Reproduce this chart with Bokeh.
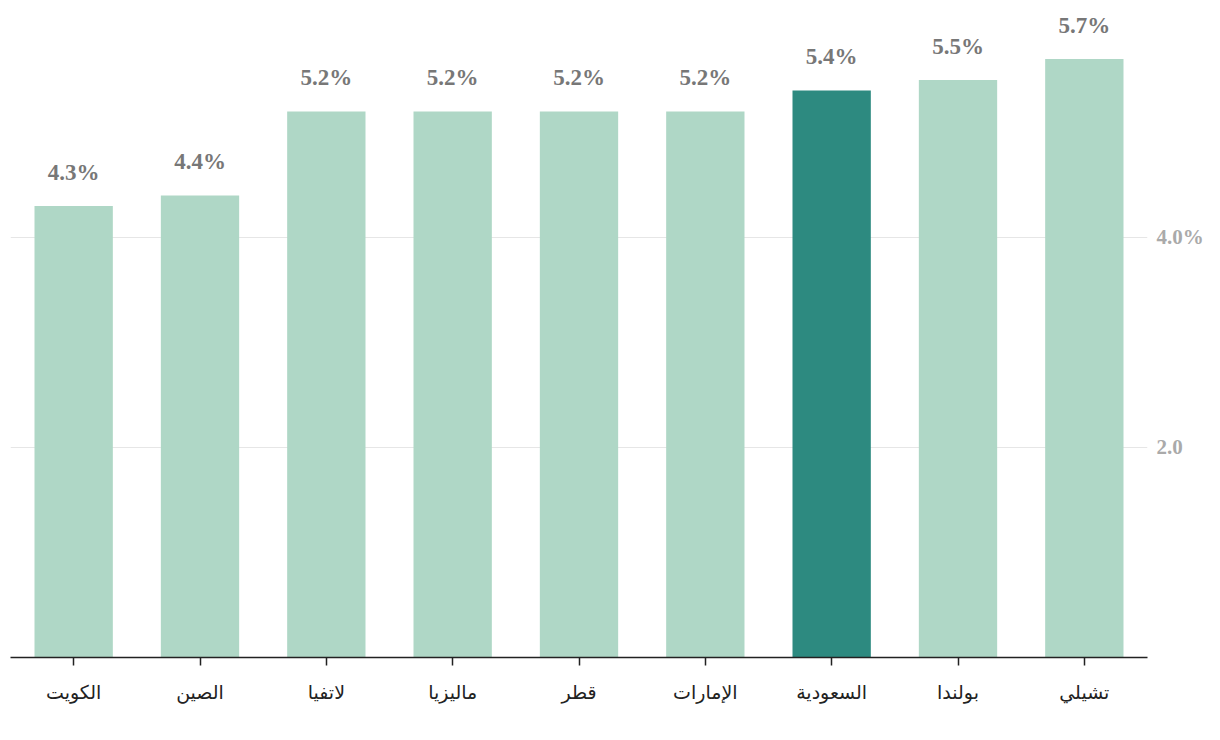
from bokeh.plotting import figure
from bokeh.models import ColumnDataSource, Range1d, FixedTicker, LinearAxis
from bokeh.core.properties import value
from bokeh.embed import file_html
from bokeh.resources import INLINE

countries = ["الكويت", "الصين", "لاتفيا", "ماليزيا", "قطر", "الإمارات", "السعودية", "بولندا", "تشيلي"]
rates = [4.3, 4.4, 5.2, 5.2, 5.2, 5.2, 5.4, 5.5, 5.7]
highlight = "السعودية"
y_ticks = [2, 4]
y_tick_labels = {2: "2.0", 4: "4.0%"}

light = "#afd7c6"
dark = "#2d8a80"
colors = [dark if c == highlight else light for c in countries]
labels = [f"{v:.1f}%" for v in rates]

src = ColumnDataSource(dict(x=countries, top=rates, color=colors, label=labels))

p = figure(x_range=countries, y_range=Range1d(0, 6.18), width=1218, height=725,
           output_backend="svg", toolbar_location=None, y_axis_location=None)
p.min_border_left = 10
p.min_border_top = 8
p.min_border_right = 71
p.min_border_bottom = 68
p.outline_line_color = None
p.background_fill_color = "white"
p.border_fill_color = "white"

p.vbar(x="x", top="top", width=0.62, color="color", source=src, line_color=None)

p.text(x="x", y="top", text="label", source=src, text_align="center", text_baseline="bottom",
       y_offset=-21, text_font=value("Liberation Serif"), text_font_style="bold",
       text_font_size="23px", text_color="#777777")

yaxis = LinearAxis(ticker=FixedTicker(ticks=y_ticks))
yaxis.major_label_overrides = y_tick_labels
yaxis.axis_line_color = None
yaxis.major_tick_line_color = None
yaxis.minor_tick_line_color = None
yaxis.major_label_text_font = "Liberation Serif"
yaxis.major_label_text_font_style = "bold"
yaxis.major_label_text_font_size = "21px"
yaxis.major_label_text_color = "#aaaaaa"
yaxis.major_label_standoff = 3
p.add_layout(yaxis, "right")

p.ygrid.ticker = FixedTicker(ticks=y_ticks)
p.ygrid.grid_line_color = "#e6e6e6"
p.ygrid.grid_line_width = 1
p.xgrid.grid_line_color = None

xa = p.xaxis[0]
xa.axis_line_color = "#222222"
xa.axis_line_width = 1.5
xa.major_tick_line_color = "#222222"
xa.major_tick_line_width = 1.5
xa.major_tick_out = 8
xa.major_tick_in = 0
xa.minor_tick_line_color = None
xa.major_label_text_font = "DejaVu Sans"
xa.major_label_text_font_size = "19px"
xa.major_label_text_color = "#222222"
xa.major_label_standoff = 15

open("out.html", "w").write(file_html(p, INLINE))
